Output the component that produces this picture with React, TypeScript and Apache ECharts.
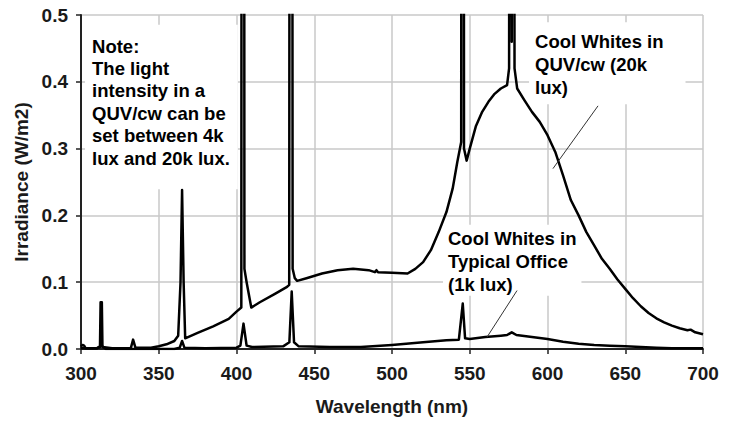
import React, { useEffect, useRef } from "react";
import * as echarts from "echarts";

const xTicks = [300, 350, 400, 450, 500, 550, 600, 650, 700];
const yTicks = [0, 0.1, 0.2, 0.3, 0.4, 0.5];

const quvWavelengths = [
  300, 301, 302, 303, 310, 312.2, 312.6, 313.4, 313.8, 320, 332, 333.5, 335, 345, 350, 355, 360, 362.5, 364, 365,
  366, 367, 375, 385, 395, 400, 403.1, 403.4, 404.8, 405.1, 406.5, 409.5, 415, 425, 432.5, 433.9, 434.3, 435.7, 436.1, 437.5,
  439, 445, 455, 465, 475, 485, 489, 490, 491, 500, 510, 515, 520, 525, 530, 535, 539, 542, 544.5, 544.7,
  546.1, 546.3, 548, 550, 554, 558, 562, 566, 570, 574, 575.3, 575.8, 577, 578.2, 578.8, 580.5, 585, 590, 595, 600,
  605, 610, 615, 620, 625, 630, 635, 640, 645, 650, 655, 660, 665, 670, 675, 680, 685, 690, 692, 695,
  700,
];
const quvIrradiance = [
  0.004, 0.006, 0.005, 0.001, 0.001, 0.003, 0.07, 0.07, 0.003, 0.001, 0.001, 0.014, 0.002, 0.002, 0.004, 0.007, 0.012, 0.02, 0.1, 0.238,
  0.1, 0.016, 0.024, 0.034, 0.045, 0.056, 0.062, 1.5, 1.5, 0.12, 0.1, 0.062, 0.07, 0.083, 0.093, 0.096, 1.5, 1.5, 0.12, 0.106,
  0.102, 0.106, 0.113, 0.118, 0.12, 0.118, 0.115, 0.118, 0.115, 0.114, 0.113, 0.12, 0.13, 0.148, 0.175, 0.205, 0.24, 0.28, 0.31, 1.5,
  1.5, 0.3, 0.282, 0.3, 0.334, 0.355, 0.37, 0.382, 0.39, 0.395, 0.42, 1.5, 0.46, 1.5, 0.42, 0.39, 0.373, 0.355, 0.34, 0.32,
  0.295, 0.26, 0.223, 0.2, 0.175, 0.155, 0.135, 0.12, 0.104, 0.09, 0.076, 0.064, 0.054, 0.046, 0.04, 0.035, 0.031, 0.028, 0.029, 0.025,
  0.022,
];

const officeWavelengths = [
  300, 310, 312.3, 313.7, 316, 340, 360, 363.5, 365, 366.5, 380, 400, 402.5, 404.5, 406.5, 410, 430, 434, 435.5, 437,
  440, 460, 480, 500, 520, 535, 543, 545.5, 547, 550, 560, 570, 574, 577, 580, 590, 600, 610, 620, 630,
  640, 650, 660, 670, 680, 700,
];
const officeIrradiance = [
  0.001, 0.001, 0.004, 0.004, 0.0, 0.0, 0.0, 0.002, 0.012, 0.002, 0.001, 0.002, 0.005, 0.038, 0.005, 0.003, 0.004, 0.01, 0.086, 0.01,
  0.004, 0.003, 0.003, 0.006, 0.01, 0.013, 0.014, 0.068, 0.016, 0.015, 0.018, 0.02, 0.021, 0.025, 0.021, 0.018, 0.015, 0.011, 0.008, 0.006,
  0.005, 0.004, 0.003, 0.002, 0.001, 0.001,
];

const noteText = ["Note:", "The light", "intensity in a", "QUV/cw can be", "set between 4k", "lux and 20k lux."];
const quvLabel = ["Cool Whites in", "QUV/cw (20k", "lux)"];
const officeLabel = ["Cool Whites in", "Typical Office", "(1k lux)"];
const quvLeader = [[632.5, 0.364], [603.5, 0.27]];
const officeLeader = [[580.4, 0.0875], [561.1, 0.0178]];

const FONT = '"Liberation Sans", Arial, Helvetica, sans-serif';

export default function App() {
  const ref = useRef<HTMLDivElement>(null);
  useEffect(() => {
    if (!ref.current) return;
    const chart = echarts.init(ref.current, undefined, { renderer: "svg" });
    const zip = (xs: number[], ys: number[]) => xs.map((x, i) => [x, ys[i]]);
    chart.setOption({
      animation: false,
      backgroundColor: "#ffffff",
      grid: { left: 81, right: 27, top: 15, bottom: 69, containLabel: false },
      xAxis: {
        type: "value",
        min: xTicks[0],
        max: xTicks[xTicks.length - 1],
        interval: 50,
        name: "Wavelength (nm)",
        nameLocation: "middle",
        nameGap: 48,
        nameTextStyle: { fontFamily: FONT, fontWeight: "bold", fontSize: 19, color: "#1a1a1a" },
        axisLine: { show: true, onZero: false, lineStyle: { color: "#222", width: 2 } },
        axisTick: { show: true, length: 5, lineStyle: { color: "#222", width: 1.5 } },
        axisLabel: { margin: 15, fontFamily: FONT, fontWeight: "bold", fontSize: 19, color: "#1a1a1a" },
        splitLine: { show: true, lineStyle: { color: "#c8c8c8", width: 1.5 } },
      },
      yAxis: {
        type: "value",
        min: yTicks[0],
        max: yTicks[yTicks.length - 1],
        interval: 0.1,
        name: "Irradiance (W/m2)",
        nameLocation: "middle",
        nameGap: 49,
        nameTextStyle: { fontFamily: FONT, fontWeight: "bold", fontSize: 19, color: "#1a1a1a" },
        axisLine: { show: true, lineStyle: { color: "#222", width: 2 } },
        axisTick: { show: true, length: 5, lineStyle: { color: "#222", width: 1.5 } },
        axisLabel: {
          margin: 13,
          fontFamily: FONT,
          fontWeight: "bold",
          fontSize: 19,
          color: "#1a1a1a",
          formatter: (v: number) => v.toFixed(1),
        },
        splitLine: { show: true, lineStyle: { color: "#c8c8c8", width: 1.5 } },
      },
      series: [
        {
          type: "line",
          data: zip(quvWavelengths, quvIrradiance),
          showSymbol: false,
          symbol: "none",
          clip: true,
          z: 3,
          lineStyle: { color: "#000", width: 2.5, join: "round" },
        },
        {
          type: "line",
          data: zip(officeWavelengths, officeIrradiance),
          showSymbol: false,
          symbol: "none",
          clip: true,
          z: 3,
          lineStyle: { color: "#000", width: 2.5, join: "round" },
        },
        {
          type: "line",
          data: quvLeader,
          showSymbol: false,
          symbol: "none",
          z: 4,
          lineStyle: { color: "#333", width: 1 },
        },
        {
          type: "line",
          data: officeLeader,
          showSymbol: false,
          symbol: "none",
          z: 4,
          lineStyle: { color: "#333", width: 1 },
        },
      ],
    });

    const px = (x: number, y: number) => chart.convertToPixel({ gridIndex: 0 }, [x, y]) as number[];
    const label = (lines: string[], anchor: number[], lh: number, padding: number[]) => ({
      type: "text",
      x: anchor[0] - padding[3],
      y: anchor[1] - padding[0],
      z: 2,
      style: {
        text: lines.join("\n"),
        fontFamily: FONT,
        fontWeight: "bold",
        fontSize: 18.5,
        lineHeight: lh,
        fill: "#000",
        align: "left",
        verticalAlign: "top",
        backgroundColor: "#ffffff",
        padding,
      },
    });
    // anchors: top-left of each text block, in data coordinates
    const noteAnchor = px(307.1, 0.4703);
    const quvAnchor = px(592, 0.477);
    const officeAnchor = px(536, 0.183);
    chart.setOption({
      graphic: [
        label(noteText, noteAnchor, 22.4, [10, 8, 20, 7]),
        label(quvLabel, quvAnchor, 23, [8, 22, 5, 6]),
        label(officeLabel, officeAnchor, 23, [2, 5, 0, 5]),
      ],
    });
    return () => chart.dispose();
  }, []);
  return (
    <div
      ref={ref}
      style={{ position: "fixed", left: 0, top: 0, width: 730, height: 421, background: "#fff" }}
    />
  );
}
